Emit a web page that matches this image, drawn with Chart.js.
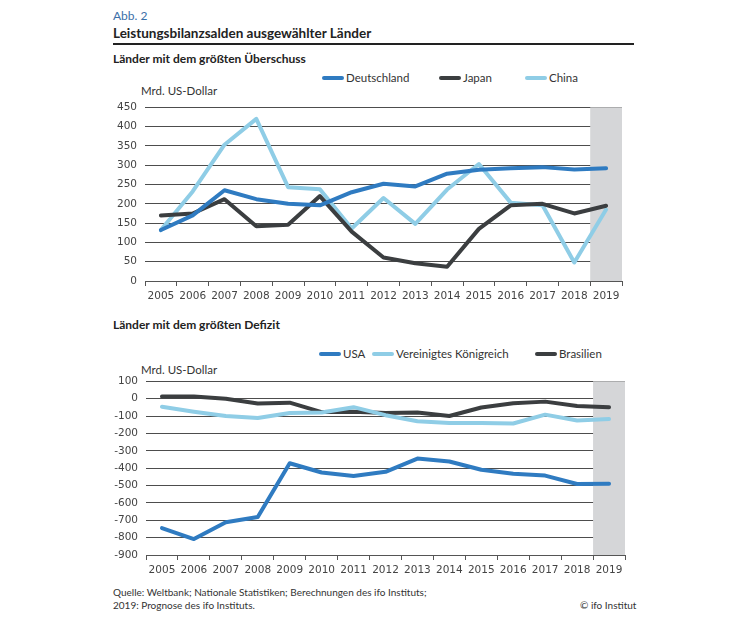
<!DOCTYPE html>
<html>
<head>
<meta charset="utf-8">
<script src="https://cdn.jsdelivr.net/npm/chart.js@4.4.1/dist/chart.umd.min.js"></script>
<style>
  body { margin: 0; width: 740px; height: 625px; background: #fff; position: relative; font-family: Lato, "Open Sans", sans-serif; color: #222; overflow: hidden; }
  .abs { position: absolute; white-space: nowrap; }
  #abb { left: 113px; top: 8px; font-size: 12px; color: #3b6fa8; }
  #title { left: 113px; top: 25px; font-size: 13.5px; font-weight: bold; }
  #rule { left: 113px; top: 43px; width: 521px; height: 2px; background: #222; }
  .sub { font-size: 12px; font-weight: bold; left: 113px; }
  .unit { font-size: 11.5px; color: #333; }
  .leg { font-size: 11.5px; color: #333; display: flex; align-items: center; }
  .leg span.sw { display: inline-block; width: 22px; height: 4px; border-radius: 2px; margin-right: 2px; }
  .foot { font-size: 10px; color: #333; }
  canvas { position: absolute; }
</style>
</head>
<body>
<div class="abs" id="abb">Abb. 2</div>
<div class="abs" id="title">Leistungsbilanzsalden ausgewählter Länder</div>
<div class="abs" id="rule"></div>

<div class="abs sub" style="top:51px">Länder mit dem größten Überschuss</div>
<div id="legend1"></div>
<div class="abs unit" style="left:141px; top:84px">Mrd. US-Dollar</div>
<div style="position:absolute; left:100px; top:93px; width:525px; height:218px"><canvas id="c1"></canvas></div>

<div class="abs sub" style="top:317px">Länder mit dem größten Defizit</div>
<div id="legend2"></div>
<div class="abs unit" style="left:141px; top:363px">Mrd. US-Dollar</div>
<div style="position:absolute; left:100px; top:367px; width:530px; height:218px"><canvas id="c2"></canvas></div>

<div class="abs foot" style="left:113px; top:586px">Quelle: Weltbank; Nationale Statistiken; Berechnungen des ifo Instituts;</div>
<div class="abs foot" style="left:113px; top:599px">2019: Prognose des ifo Instituts.</div>
<div class="abs foot" style="left:580px; top:599px">© ifo Institut</div>

<script>
const years = ["2005","2006","2007","2008","2009","2010","2011","2012","2013","2014","2015","2016","2017","2018","2019"];

// Überschuss (Mrd. US-Dollar)
const deutschland = [132, 170, 235, 212, 200, 196, 230, 252, 245, 278, 288, 292, 295, 289, 292];
const japan = [170, 175, 212, 142, 146, 220, 128, 61, 46, 37, 135, 196, 200, 175, 195];
const china = [132, 232, 353, 420, 243, 238, 136, 215, 148, 237, 303, 203, 196, 48, 185];
const ticks1 = [0, 50, 100, 150, 200, 250, 300, 350, 400, 450];

// Defizit (Mrd. US-Dollar)
const usa = [-745, -808, -711, -681, -372, -425, -445, -421, -345, -362, -409, -432, -443, -491, -490];
const uk = [-47, -75, -100, -111, -83, -80, -49, -95, -130, -140, -140, -143, -92, -126, -117];
const brasilien = [13, 13, 0, -28, -23, -77, -75, -83, -79, -100, -51, -26, -17, -42, -49];
const ticks2 = [100, 0, -100, -200, -300, -400, -500, -600, -700, -800, -900];

const BLUE = "#2f7bc1", DARK = "#3b3e40", LIGHT = "#8fcde6";

function legend(id, items, top) {
  const el = document.getElementById(id);
  items.forEach(([name, color, left]) => {
    const d = document.createElement("div");
    d.className = "abs leg";
    d.style.left = left + "px";
    d.style.top = top + "px";
    d.innerHTML = `<span class="sw" style="background:${color}"></span>${name}`;
    el.appendChild(d);
  });
}
legend("legend1", [["Deutschland", BLUE, 322], ["Japan", DARK, 439], ["China", LIGHT, 525]], 71);
legend("legend2", [["USA", BLUE, 319], ["Vereinigtes Königreich", LIGHT, 372], ["Brasilien", DARK, 535]], 347);

// grey band for the forecast year
const forecastBand = {
  id: "forecastBand",
  beforeDatasetsDraw(chart) {
    const { ctx, chartArea, scales } = chart;
    const x = scales.x;
    const half = (x.getPixelForValue(1) - x.getPixelForValue(0)) / 2;
    const left = x.getPixelForValue(years.length - 1) - half;
    ctx.save();
    ctx.fillStyle = "#d5d6d8";
    ctx.fillRect(left, chartArea.top, chartArea.right - left, chartArea.bottom - chartArea.top);
    ctx.restore();
  }
};

function makeChart(id, datasets, ticks, yWidth, padRight) {
  const min = Math.min(...ticks), max = Math.max(...ticks);
  new Chart(document.getElementById(id), {
    type: "line",
    data: {
      labels: years,
      datasets: datasets.map(([label, data, color]) => ({
        label, data, borderColor: color, backgroundColor: color,
        borderWidth: 4, pointRadius: 0, tension: 0, borderCapStyle: "round", borderJoinStyle: "round"
      }))
    },
    options: {
      responsive: true,
      maintainAspectRatio: false,
      animation: false,
      layout: { padding: { top: 10, right: padRight, left: 0, bottom: 0 } },
      plugins: { legend: { display: false }, tooltip: { enabled: false } },
      scales: {
        x: {
          offset: true,
          grid: { offset: true, drawOnChartArea: false, drawTicks: true, tickLength: 5, color: "#555" },
          border: { display: true, color: "#555", width: 1 },
          ticks: { color: "#444", font: { family: "DejaVu Sans", size: 10.5 }, padding: 4, maxRotation: 0, autoSkip: false },
          afterFit(s) { s.height = 30; }
        },
        y: {
          min, max,
          afterBuildTicks(s) { s.ticks = ticks.map(v => ({ value: v })); },
          grid: { color: "#4d4d4d", lineWidth: 1, drawTicks: false },
          border: { display: false },
          ticks: { color: "#444", font: { family: "DejaVu Sans", size: 10.5 }, padding: 8 },
          afterFit(s) { s.width = yWidth; }
        }
      }
    },
    plugins: [forecastBand]
  });
}

makeChart("c1", [["Deutschland", deutschland, BLUE], ["Japan", japan, DARK], ["China", china, LIGHT]], ticks1, 45, 3);
makeChart("c2", [["USA", usa, BLUE], ["Vereinigtes Königreich", uk, LIGHT], ["Brasilien", brasilien, DARK]], ticks2, 46, 5);
</script>
</body>
</html>
